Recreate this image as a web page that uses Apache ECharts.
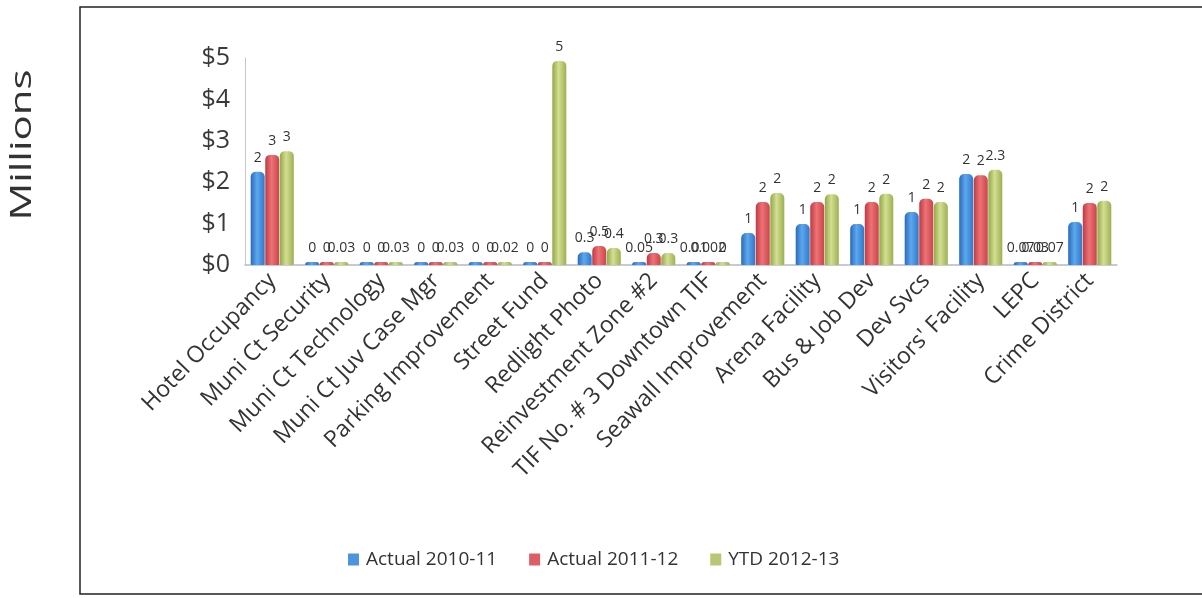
<!DOCTYPE html>
<html>
<head>
<meta charset="utf-8">
<script src="https://cdn.jsdelivr.net/npm/echarts@6/dist/echarts.min.js"></script>
<style>
  html, body { margin: 0; padding: 0; background: #fff; }
  #chart { width: 1202px; height: 598px; }
</style>
</head>
<body>
<div id="chart"></div>
<script>
// Special revenue funds, in millions of dollars
const categories = [
  'Hotel Occupancy', 'Muni Ct Security', 'Muni Ct Technology', 'Muni Ct Juv Case Mgr',
  'Parking Improvement', 'Street Fund', 'Redlight Photo', 'Reinvestment Zone #2',
  'TIF No. # 3 Downtown TIF', 'Seawall Improvement', 'Arena Facility', 'Bus & Job Dev',
  'Dev Svcs', "Visitors' Facility", 'LEPC', 'Crime District'
];

const seriesNames = ['Actual 2010-11', 'Actual 2011-12', 'YTD 2012-13'];

const actual2010 = [2.25, 0, 0, 0, 0, 0, 0.31, 0.05, 0.01, 0.77, 0.99, 0.99, 1.28, 2.2, 0.07, 1.04];
const actual2011 = [2.66, 0, 0, 0, 0, 0, 0.46, 0.29, 0.002, 1.52, 1.52, 1.52, 1.6, 2.17, 0.03, 1.5];
const ytd2012 = [2.75, 0.03, 0.03, 0.03, 0.02, 4.93, 0.41, 0.29, 0, 1.74, 1.71, 1.72, 1.52, 2.3, 0.07, 1.55];

// Value labels as printed above each bar
const labels2010 = ['2', '0', '0', '0', '0', '0', '0.3', '0.05', '0.01', '1', '1', '1', '1', '2', '0.07', '1'];
const labels2011 = ['3', '0', '0', '0', '0', '0', '0.5', '0.3', '0.002', '2', '2', '2', '2', '2', '0.03', '2'];
const labels2012 = ['3', '0.03', '0.03', '0.03', '0.02', '5', '0.4', '0.3', '0', '2', '2', '2', '2', '2.3', '0.07', '2'];

const yTicks = [0, 1, 2, 3, 4, 5];

const FONT = '"Open Sans", "Noto Sans", sans-serif';

function cylinder(edge, mid, edge2) {
  return new echarts.graphic.LinearGradient(0, 0, 1, 0, [
    { offset: 0, color: edge },
    { offset: 0.45, color: mid },
    { offset: 1, color: edge2 }
  ]);
}

const palette = [
  { fill: cylinder('#2a6abb', '#5ca8ee', '#3178c8'), legend: '#4a95dc' },
  { fill: cylinder('#bd3a42', '#ee7276', '#c9454c'), legend: '#de5e66' },
  { fill: cylinder('#93a747', '#d3df92', '#9db052'), legend: '#b6c874' }
];

function makeSeries(name, values, labelText, idx) {
  return {
    name: name,
    type: 'bar',
    data: values,
    barWidth: 14,
    barGap: '4%',
    barMinHeight: 3,
    itemStyle: { color: palette[idx].fill, borderRadius: [5, 5, 1, 1] },
    label: {
      show: true,
      position: 'top',
      distance: 7,
      color: '#333',
      fontFamily: FONT,
      fontSize: 14,
      formatter: p => labelText[p.dataIndex]
    }
  };
}

const chart = echarts.init(document.getElementById('chart'), null, { renderer: 'canvas' });

chart.setOption({
  backgroundColor: '#ffffff',
  animation: false,
  color: palette.map(p => p.legend),
  textStyle: { fontFamily: FONT },
  graphic: [
    {
      type: 'rect',
      z: -10,
      shape: { x: 80, y: 7, width: 1200, height: 587 },
      style: { fill: 'none', stroke: '#222', lineWidth: 1.5 }
    },
    {
      type: 'text',
      x: 22,
      y: 145,
      rotation: Math.PI / 2,
      scaleX: 1.4,
      style: {
        text: 'Millions',
        font: '30px ' + FONT,
        fill: '#333',
        textAlign: 'center',
        textVerticalAlign: 'middle'
      }
    }
  ],
  legend: {
    data: seriesNames.map((n, i) => ({ name: n, itemStyle: { color: palette[i].legend } })),
    left: 343,
    top: 545,
    itemWidth: 11,
    itemHeight: 12,
    itemGap: 32,
    icon: 'rect',
    textStyle: { fontFamily: FONT, fontSize: 19, color: '#333', padding: [0, 0, 0, 2] }
  },
  grid: { left: 245, top: 58, width: 872, height: 207, containLabel: false },
  xAxis: {
    type: 'category',
    data: categories,
    axisLine: { show: true, lineStyle: { color: '#b8b8c8', width: 1.5 } },
    axisTick: { show: false },
    axisLabel: {
      interval: 0,
      rotate: 46,
      margin: 12,
      color: '#333',
      fontFamily: FONT,
      fontSize: 23
    }
  },
  yAxis: {
    type: 'value',
    min: 0,
    max: 5,
    interval: 1,
    axisLine: { show: true, lineStyle: { color: '#c4c4d4', width: 1 } },
    axisTick: { show: false },
    splitLine: { show: false },
    axisLabel: {
      margin: 15,
      color: '#3a3a3a',
      fontFamily: FONT,
      fontSize: 25,
      formatter: v => yTicks.indexOf(v) >= 0 ? '$' + v : ''
    }
  },
  series: [
    makeSeries(seriesNames[0], actual2010, labels2010, 0),
    makeSeries(seriesNames[1], actual2011, labels2011, 1),
    makeSeries(seriesNames[2], ytd2012, labels2012, 2)
  ]
});
</script>
</body>
</html>
